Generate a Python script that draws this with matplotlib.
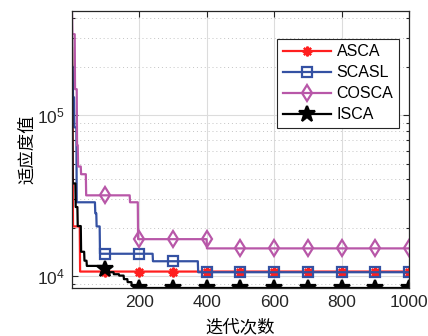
import numpy as np
import matplotlib
matplotlib.use("Agg")
import matplotlib.pyplot as plt
from matplotlib.ticker import LogLocator, NullFormatter, FixedLocator

plt.rcParams['font.family'] = ['Liberation Sans', 'DejaVu Sans']
plt.rcParams['mathtext.fontset'] = 'custom'
plt.rcParams['mathtext.rm'] = 'Liberation Sans'

n_iter = 1000

# breakpoints (iteration where the best value changes, new best value)
asca_it = [1, 2, 3, 4, 25]
asca_val = [2.6e5, 1.3e5, 5.0e4, 2.04e4, 1.07e4]

scasl_it = [1, 4, 8, 15, 70, 74, 84, 241, 375]
scasl_val = [2.0e5, 1.29e5, 8.4e4, 2.88e4, 2.46e4, 2.04e4, 1.38e4, 1.24e4, 1.06e4]

cosca_it = [1, 2, 10, 16, 19, 28, 43, 173, 197, 401]
cosca_val = [4.43e5, 3.18e5, 1.45e5, 6.5e4, 4.8e4, 4.3e4, 3.18e4, 2.88e4, 1.70e4, 1.49e4]

isca_it = [1, 2, 3, 12, 18, 28, 38, 45, 92, 111, 125, 141, 155, 166, 178, 191]
isca_val = [3.05e5, 1.2e5, 3.77e4, 2.69e4, 2.05e4, 1.42e4, 1.25e4, 1.16e4, 1.11e4,
            1.06e4, 1.03e4, 1.01e4, 9.6e3, 9.2e3, 8.8e3, 8.46e3]

names = ["ASCA", "SCASL", "COSCA", "ISCA"]
colors = ["#ff1f1f", "#3451a3", "#b857a8", "#000000"]
markers = [(8, 2, 0), "s", "d", "*"]


def expand(its, vals):
    out = np.zeros(n_iter)
    for i in range(len(its)):
        out[its[i] - 1:] = vals[i]
    return out


x = np.arange(1, n_iter + 1)
curves = [expand(asca_it, asca_val), expand(scasl_it, scasl_val),
          expand(cosca_it, cosca_val), expand(isca_it, isca_val)]

fig = plt.figure(figsize=(4.28, 3.36), dpi=100)
ax = fig.add_axes([72 / 428, 1 - 288 / 336, 337 / 428, 277 / 336])

msizes = [7, 6.5, 8.5, 12]
for i in range(4):
    mfc = "none" if i in (1, 2) else colors[i]
    ax.plot(x, curves[i], color=colors[i], lw=1.6, marker=markers[i],
            markevery=list(range(99, n_iter, 100)), markersize=msizes[i],
            markerfacecolor=mfc, markeredgecolor=colors[i], markeredgewidth=1.6,
            label=names[i])

ax.set_yscale("log")
ax.set_xlim(1, 1000)
ax.set_ylim(min(isca_val), max(cosca_val))
ax.xaxis.set_major_locator(FixedLocator([200, 400, 600, 800, 1000]))
ax.yaxis.set_major_locator(LogLocator(base=10))
ax.yaxis.set_minor_locator(LogLocator(base=10, subs=np.arange(2, 10)))
ax.yaxis.set_minor_formatter(NullFormatter())

ax.grid(True, which="major", color="#dcdcdc", lw=0.8, ls="-")
ax.grid(True, which="minor", axis="y", color="#c4c4c4", lw=0.7, ls=(0, (1, 3)))
ax.set_axisbelow(True)

ax.tick_params(which="both", direction="in", top=True, right=True, colors="#262626",
               labelsize=12.5, width=0.8)
ax.tick_params(which="major", length=4, pad=5)
ax.tick_params(which="minor", length=2)
for s in ax.spines.values():
    s.set_color("#262626")
    s.set_linewidth(0.9)

cjk = ['Noto Sans CJK SC', 'DejaVu Sans']
ax.set_xlabel("迭代次数", family=cjk, fontsize=12.5, labelpad=6)
ax.set_ylabel("适应度值", family=cjk, fontsize=12.5, labelpad=1)

leg = ax.legend(loc="upper right", bbox_to_anchor=(0.97, 0.9), fontsize=11.5,
                handlelength=3.0, fancybox=False, framealpha=1, edgecolor="#262626",
                borderpad=0.35, labelspacing=0.38, handletextpad=0.35,
                borderaxespad=0.0)
leg.get_frame().set_linewidth(0.8)

fig.savefig("out.png", dpi=100)
